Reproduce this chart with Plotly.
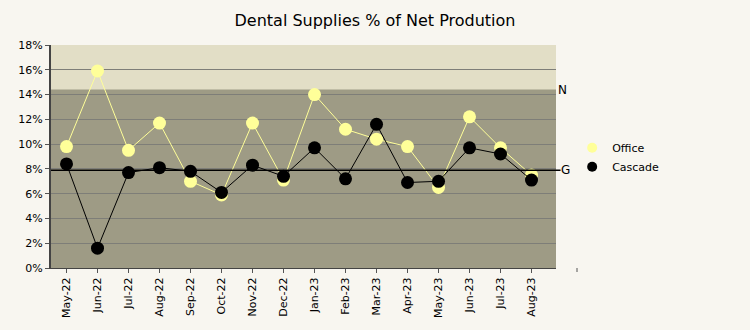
import plotly.graph_objects as go

months = ["May-22", "Jun-22", "Jul-22", "Aug-22", "Sep-22", "Oct-22", "Nov-22", "Dec-22",
          "Jan-23", "Feb-23", "Mar-23", "Apr-23", "May-23", "Jun-23", "Jul-23", "Aug-23"]
office = [9.8, 15.9, 9.5, 11.7, 7.0, 5.9, 11.7, 7.1, 14.0, 11.2, 10.4, 9.8, 6.5, 12.2, 9.7, 7.5]
cascade = [8.4, 1.6, 7.7, 8.1, 7.8, 6.1, 8.3, 7.4, 9.7, 7.2, 11.6, 6.9, 7.0, 9.7, 9.2, 7.1]
n_level = 14.4
g_level = 7.9
y_ticks = [0, 2, 4, 6, 8, 10, 12, 14, 16, 18]

x_idx = list(range(len(months)))
series = [("Office", office, "#FFFF99"), ("Cascade", cascade, "#000000")]

fig = go.Figure()
for name, vals, color in series:
    fig.add_trace(go.Scatter(
        x=x_idx, y=vals, name=name, mode="lines+markers",
        line=dict(color=color, width=1),
        marker=dict(color=color, size=13),
        showlegend=False,
    ))
# marker-only legend entries
for name, vals, color in series:
    fig.add_trace(go.Scatter(
        x=[None], y=[None], name=name, mode="markers",
        marker=dict(color=color, size=10),
        showlegend=True,
    ))

shapes = [
    # lower band up to the N level
    dict(type="rect", xref="paper", yref="y", x0=0, x1=1, y0=0, y1=n_level,
         fillcolor="#9E9B85", line=dict(width=0), layer="below"),
    # goal line
    dict(type="line", xref="paper", yref="y", x0=0, x1=1.009, y0=g_level, y1=g_level,
         line=dict(color="#000000", width=1.5), layer="above"),
    # stray tick past the plot edge
    dict(type="line", xref="paper", yref="paper", x0=1.0416, x1=1.0416, y0=0, y1=-0.018,
         line=dict(color="#555555", width=1)),
]

annotations = [
    dict(x=1.0, y=n_level, xref="paper", yref="y", text="N", showarrow=False,
         xanchor="left", yanchor="middle", font=dict(size=12, color="#000000")),
    dict(x=1.006, y=g_level, xref="paper", yref="y", text="G", showarrow=False,
         xanchor="left", yanchor="middle", font=dict(size=12, color="#000000")),
]

fig.update_layout(
    width=750, height=330,
    margin=dict(l=51, r=194, t=45, b=60),
    paper_bgcolor="#F8F6F0",
    plot_bgcolor="#E2DEC6",
    font=dict(family="DejaVu Sans", size=11, color="#000000"),
    title=dict(text="Dental Supplies % of Net Prodution", x=0.5, xanchor="center",
               y=0.938, yanchor="middle", font=dict(size=16, family="DejaVu Sans")),
    showlegend=True,
    legend=dict(x=1.032, y=0.497, xanchor="left", yanchor="middle",
                bgcolor="rgba(0,0,0,0)", font=dict(size=11), itemsizing="trace",
                tracegroupgap=0),
    shapes=shapes,
    annotations=annotations,
)

fig.update_xaxes(
    range=[-0.5, 15.79],
    tickmode="array", tickvals=x_idx, ticktext=months,
    tickangle=-90, tickson="boundaries",
    ticks="outside", ticklen=4, tickcolor="#555555",
    showgrid=False, zeroline=False,
    showline=True, linecolor="#444444", linewidth=1,
    tickfont=dict(size=11),
)
fig.update_yaxes(
    range=[0, 18],
    tickmode="array", tickvals=y_ticks, ticktext=[f"{v}%" for v in y_ticks],
    ticks="outside", ticklen=4, tickcolor="#555555",
    showgrid=True, gridcolor="#7E7E78", gridwidth=1,
    zeroline=False,
    showline=True, linecolor="#444444", linewidth=2,
    tickfont=dict(size=11),
)

fig.write_html("out.html")
